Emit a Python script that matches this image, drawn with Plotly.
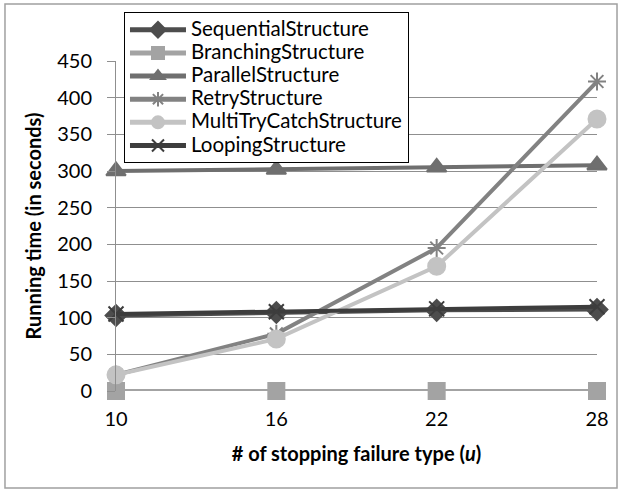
import plotly.graph_objects as go

x_vals = [10, 16, 22, 28]
sequential = [103, 107, 110, 111]
branching = [0, 0, 0, 0]
parallel = [300, 302, 305, 308]
retry = [22, 78, 195, 422]
multitry = [22, 71, 170, 371]
looping = [105, 108, 112, 115]

series = [
    ("SequentialStructure", sequential, "#4d4d4d", "diamond", 16),
    ("BranchingStructure", branching, "#a3a3a3", "square", 16),
    ("ParallelStructure", parallel, "#6f6f6f", "triangle-up", 17),
    ("RetryStructure", retry, "#828282", "asterisk-open", 15),
    ("MultiTryCatchStructure", multitry, "#c3c3c3", "circle", 17),
    ("LoopingStructure", looping, "#3d3d3d", "x-thin-open", 15),
]

font_family = "Lato, Open Sans, sans-serif"

fig = go.Figure()
for name, vals, color, sym, size in series:
    fig.add_trace(go.Scatter(
        x=x_vals, y=vals,
        name='<span style="font-size:20.5px">' + name + '</span>',
        mode="lines+markers",
        line=dict(color=color, width=4),
        marker=dict(symbol=sym, size=size, color=color,
                    line=dict(color=color, width=2)),
        cliponaxis=False,
    ))

fig.update_layout(
    width=621, height=493,
    margin=dict(l=116, r=24, t=61, b=102),
    paper_bgcolor="white", plot_bgcolor="white",
    font=dict(family=font_family, size=20, color="black"),
    showlegend=True,
    legend=dict(
        x=0.0166, y=1.148, xanchor="left", yanchor="top",
        bgcolor="white", bordercolor="black", borderwidth=1,
        font=dict(size=15.5, family=font_family),
        tracegroupgap=0, itemwidth=56, itemsizing="constant",
    ),
    xaxis=dict(
        range=[10, 28], tickvals=x_vals, ticktext=[str(v) for v in x_vals],
        showgrid=False, zeroline=False, showline=False,
        ticks="", tickfont=dict(size=20), ticklabelstandoff=14,
        title=dict(text="<b># of stopping failure type (<i>u</i>)</b>",
                   font=dict(size=20), standoff=17),
    ),
    yaxis=dict(
        range=[0, 450], dtick=50,
        showgrid=True, gridcolor="#8f8f8f", gridwidth=1,
        zeroline=False, showline=True, linecolor="#8f8f8f", linewidth=1,
        ticks="outside", ticklen=8, tickcolor="#8f8f8f",
        tickfont=dict(size=20), ticklabelstandoff=11,
        title=dict(text="<b>Running time (in seconds)</b>",
                   font=dict(size=20), standoff=10),
    ),
    shapes=[dict(
        type="rect", xref="paper", yref="paper",
        x0=-0.2308, x1=1.0416, y0=-0.2939, y1=1.1727,
        line=dict(color="#a0a0a0", width=1.5), fillcolor="rgba(0,0,0,0)",
        layer="below",
    )],
)

fig.write_html("out.html")
